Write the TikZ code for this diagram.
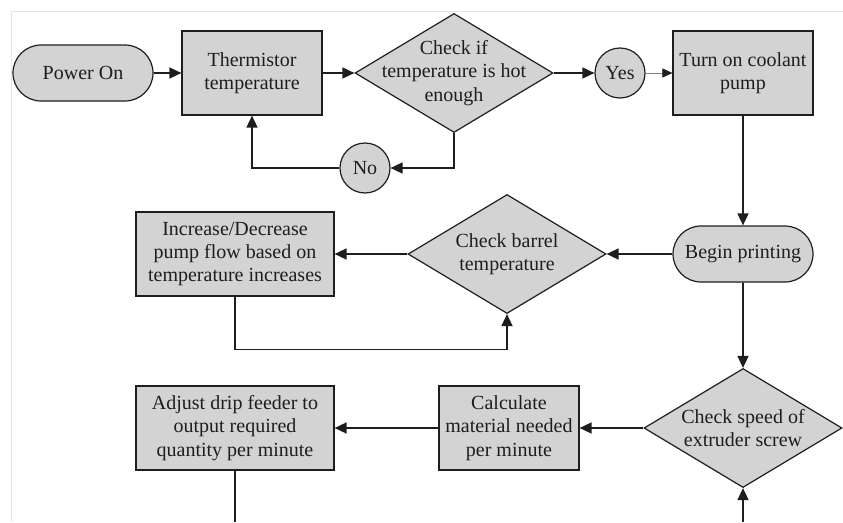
\documentclass[tikz,border=0pt]{standalone}
\usepackage{fontspec}
\setmainfont{Liberation Serif}
\usetikzlibrary{arrows.meta,shapes.misc,shapes.geometric}
\definecolor{boxgray}{RGB}{211,211,211}
\definecolor{ink}{RGB}{30,30,30}
\definecolor{framegray}{RGB}{228,228,228}

\begin{document}
\begin{tikzpicture}[x=1pt, y=-1pt,
    every node/.style={font=\fontsize{20}{23.3}\selectfont, text=ink, align=center},
    box/.style={draw=ink, line width=1.2pt, fill=boxgray, minimum height=84pt, inner sep=0pt},
    term/.style={box, rounded rectangle, minimum width=140pt, minimum height=56pt},
    dia/.style={box, diamond, minimum width=198pt, minimum height=119pt},
    ans/.style={box, circle, minimum size=50pt},
    link/.style={draw=ink, line width=1.6pt},
    arr/.style={link, -{Triangle[length=12pt, width=11pt]}}]
  \useasboundingbox (0,0) rectangle (843,522);
  \draw[framegray, line width=0.8pt] (11,522) -- (11,11) -- (843,11);

  % top row
  \node[term] (pwr) at (83,73) {Power On};
  \node[box, minimum width=140pt] (thm) at (252,73) {Thermistor\\temperature};
  \node[dia] (hot) at (454,73) {};
  \node (hot-t) at (hot) {Check if\\temperature is hot\\enough};
  \node[ans] (yes) at (620,73) {Yes};
  \node[box, minimum width=140pt] (pump) at (743,73) {Turn on coolant\\pump};
  \node[ans] (no) at (365,168) {No};

  % middle row
  \node[term] (begin) at (743,254) {Begin printing};
  \node[dia] (barrel) at (507,254) {};
  \node (barrel-t) at (barrel) {Check barrel\\temperature};
  \node[box, minimum width=198pt] (flow) at (235,254) {Increase/Decrease\\pump flow based on\\temperature increases};

  % bottom row
  \node[dia] (speed) at (743,428) {};
  \node (speed-t) at (speed) {Check speed of\\extruder screw};
  \node[box, minimum width=140pt] (calc) at (509,428) {Calculate\\material needed\\per minute};
  \node[box, minimum width=198pt] (drip) at (235,428) {Adjust drip feeder to\\output required\\quantity per minute};
  \coordinate (speed-in) at (743,522);
  \coordinate (drip-out) at (235,522);

  \draw[arr] (pwr) -- (thm);
  \draw[arr] (thm) -- (hot);
  \draw[arr] (hot) -- (yes);
  \draw[draw=gray, line width=0.6pt, -{Triangle[length=10pt, width=9pt, color=ink]}] (yes) -- (pump);
  \draw[arr] (hot.south) |- (no);
  \draw[arr] (no.west) -| (thm.south);
  \draw[arr] (pump) -- (begin);
  \draw[arr] (begin) -- (barrel);
  \draw[arr] (barrel) -- (flow);
  \draw[arr] (flow.south) -- ++(0,53) -| (barrel.south);
  \draw[arr] (begin) -- (speed);
  \draw[arr] (speed) -- (calc);
  \draw[arr] (calc) -- (drip);
  \draw[arr] (speed-in) -- (speed.south);
  \draw[link] (drip) -- (drip-out);
\end{tikzpicture}
\end{document}
